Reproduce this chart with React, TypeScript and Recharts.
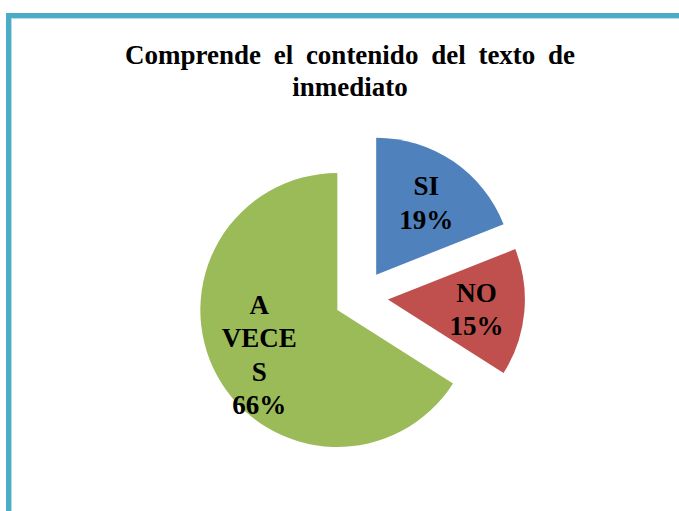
import { PieChart, Pie, Cell } from "recharts";

const categories = ["SI", "NO", "A VECES"];
const shares = [19, 15, 66];
const labelLines = [["SI", "19%"], ["NO", "15%"], ["A", "VECE", "S", "66%"]];
const colors = ["#4f81bd", "#c0504d", "#9bbb59"];

const data = categories.map((name, i) => ({ name, value: shares[i] }));

const FONT = "'Liberation Serif', 'Times New Roman', Tinos, 'DejaVu Serif', serif";
const MARGIN = { top: 5, right: 5, bottom: 5, left: 5 };
const CX = 361 - MARGIN.left;
const CY = 297 - MARGIN.top;
const RADIUS = 137;
const EXPLODE = 27;
const RADIAN = Math.PI / 180;
const total = shares.reduce((a, b) => a + b, 0);

// offset of each slice along its bisector (clockwise from 12 o'clock)
const offsets = shares.map((v, i) => {
  const before = shares.slice(0, i).reduce((a, b) => a + b, 0);
  const mid = ((before + v / 2) / total) * 360 * RADIAN;
  return { dx: Math.sin(mid) * EXPLODE, dy: -Math.cos(mid) * EXPLODE };
});

const makeLabel = (own: number) => (props: any) => {
  const { cx, cy, midAngle, outerRadius, index } = props;
  if (index !== own) return null;
  const r = outerRadius * 0.65;
  const x = cx + r * Math.cos(-midAngle * RADIAN);
  const y = cy + r * Math.sin(-midAngle * RADIAN);
  const lines = labelLines[index];
  const first = y - (lines.length * 33) / 2 + 27;
  return (
    <text
      x={x}
      y={first}
      textAnchor="middle"
      fill="#000"
      style={{ fontFamily: FONT, fontWeight: "bold", fontSize: 27 }}
    >
      {lines.map((l, k) => (
        <tspan key={k} x={x} y={first + k * 33.5}>{l}</tspan>
      ))}
    </text>
  );
};

export default function App() {
  return (
    <div style={{ position: "absolute", left: 0, top: 0, width: 679, height: 511, overflow: "hidden", background: "#fff" }}>
      {/* frame */}
      <div
        style={{
          position: "absolute", left: 6, top: 13, width: 700, height: 520,
          borderTop: "5px solid #4bacc6", borderLeft: "5px solid #4bacc6",
          boxShadow: "inset 1px 1px 0 #b8dce6",
        }}
      />
      <div
        style={{
          position: "absolute", left: 0, top: 39, width: 700, textAlign: "center",
          fontFamily: FONT, fontWeight: "bold", wordSpacing: 6,
          fontSize: 27, lineHeight: "32px", color: "#000",
        }}
      >
        Comprende el contenido del texto de
        <br />
        inmediato
      </div>
      <PieChart width={679} height={511} margin={MARGIN} style={{ position: "absolute", left: 0, top: 0 }}>
        {data.map((_, own) => (
          <Pie
            key={own}
            data={data}
            dataKey="value"
            nameKey="name"
            cx={CX + offsets[own].dx}
            cy={CY + offsets[own].dy}
            outerRadius={RADIUS}
            startAngle={90}
            endAngle={-270}
            stroke="none"
            labelLine={false}
            label={makeLabel(own)}
            isAnimationActive={false}
          >
            {data.map((d, i) => (
              <Cell key={d.name} fill={i === own ? colors[i] : "transparent"} />
            ))}
          </Pie>
        ))}
      </PieChart>
    </div>
  );
}
